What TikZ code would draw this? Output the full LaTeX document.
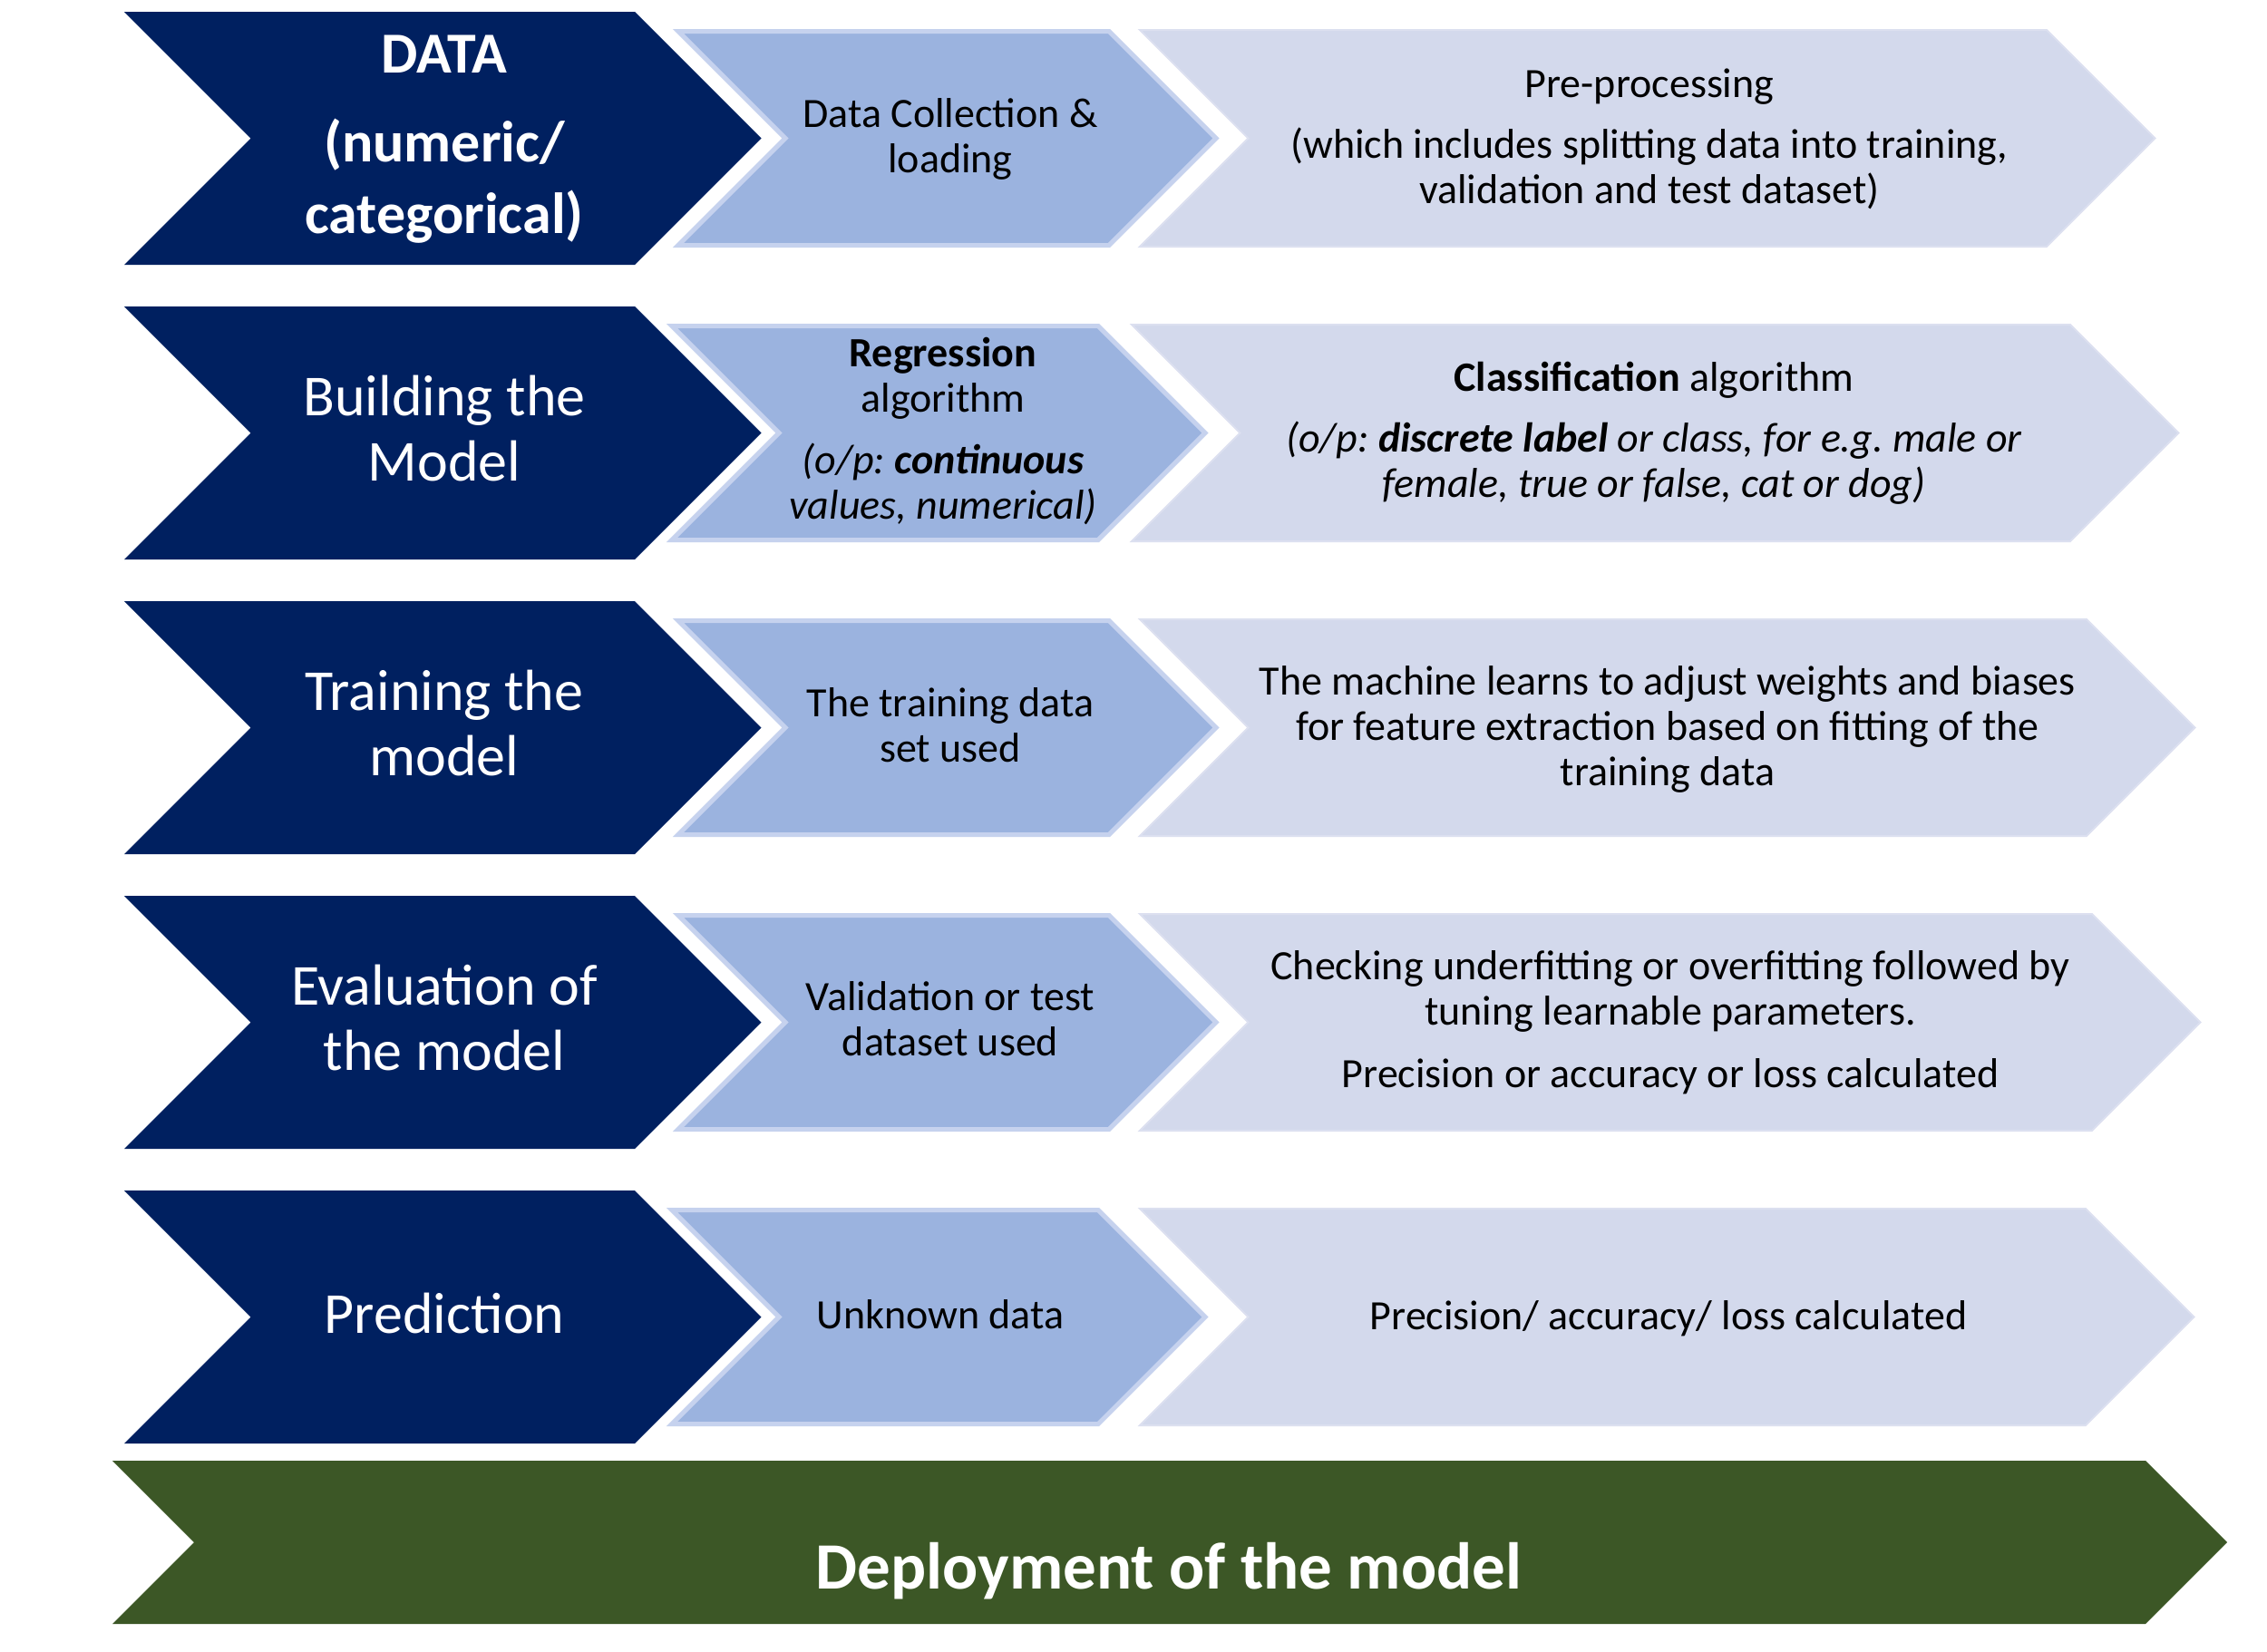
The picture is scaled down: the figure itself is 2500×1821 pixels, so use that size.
\documentclass[tikz,border=0pt]{standalone}
\usepackage{fontspec}
\setmainfont{Carlito}
\frenchspacing
\definecolor{navy}{HTML}{002060}
\definecolor{midblue}{HTML}{9BB3DF}
\definecolor{midedge}{HTML}{C6D2EE}
\definecolor{lightlav}{HTML}{D3D9EC}
\definecolor{lightedge}{HTML}{DCE0F0}
\definecolor{deepgreen}{HTML}{3C5726}
% #1 style, #2 left x, #3 right corner x, #4 top y, #5 bottom y
\newcommand\mychev[5]{%
  \path[#1] (#2,#4) -- (#3,#4) -- ({#3+(#5-#4)/2},{(#4+#5)/2}) -- (#3,#5) -- (#2,#5) -- ({#2+(#5-#4)/2},{(#4+#5)/2}) -- cycle;}
\tikzset{
  darkchev/.style={fill=navy},
  midchev/.style={fill=midblue, draw=midedge, line width=5pt, line join=miter},
  lightchev/.style={fill=lightlav, draw=lightedge, line width=2pt, line join=miter},
  greenchev/.style={fill=deepgreen},
  darktxt/.style={text=white, font=\fontsize{64}{72}\selectfont, align=center, anchor=base, inner sep=0pt},
  midtxt/.style={text=black, font=\fontsize{46}{50}\selectfont, align=center, anchor=base, inner sep=0pt},
  lighttxt/.style={text=black, font=\fontsize{46}{50}\selectfont, align=center, anchor=base, inner sep=0pt},
  greentxt/.style={text=white, font=\fontsize{73}{84}\selectfont\bfseries, align=center, anchor=base, inner sep=0pt}
}
\begin{document}
\begin{tikzpicture}[x=1pt,y=-1pt]
\useasboundingbox (0,0) rectangle (2500,1821);
\fill[white] (0,0) rectangle (2500,1821);
% dark chevrons
\mychev{darkchev}{137}{700}{13}{292}
\mychev{darkchev}{137}{700}{338}{617}
\mychev{darkchev}{137}{700}{663}{942}
\mychev{darkchev}{137}{700}{988}{1267}
\mychev{darkchev}{137}{700}{1313}{1592}
% medium chevrons
\mychev{midchev}{748}{1223}{34.5}{270.5}
\mychev{midchev}{741}{1211}{359.5}{595.5}
\mychev{midchev}{748}{1223}{684.5}{920.5}
\mychev{midchev}{748}{1223}{1009.5}{1245.5}
\mychev{midchev}{741}{1211}{1334.5}{1570.5}
% light chevrons
\mychev{lightchev}{1257}{2257}{33}{272}
\mychev{lightchev}{1248}{2283}{358}{597}
\mychev{lightchev}{1257}{2301}{683}{922}
\mychev{lightchev}{1257}{2307}{1008}{1247}
\mychev{lightchev}{1257}{2300}{1333}{1572}
% green chevron
\mychev{greenchev}{124}{2366}{1611}{1791}

% dark texts (anchored at the baseline of the last line)
\node[darktxt, font=\fontsize{64}{79}\selectfont\bfseries] (d1) at (490,257) {DATA\\[19pt](numeric/\\categorical)};
\node[darktxt] (d2) at (490,530) {Building the\\Model};
\node[darktxt] (d3) at (490,855) {Training the\\model};
\node[darktxt] (d4) at (490,1180) {Evaluation of\\the model};
\node[darktxt] (d5) at (490,1470) {Prediction};

% medium texts
\node[midtxt] (m1) at (1048,190) {Data Collection \&\\loading};
\node[midtxt] (m2) at (1040,572) {{\bfseries Regression}\\algorithm\\[18pt]{\itshape (o/p: {\bfseries continuous}}\\{\itshape values, numerical)}};
\node[midtxt] (m3) at (1048,840) {The training data\\set used};
\node[midtxt] (m4) at (1048,1164) {Validation or test\\dataset used};
\node[midtxt] (m5) at (1037,1465) {Unknown data};

% light texts
\node[lighttxt] (l1) at (1819,224) {Pre-processing\\[17pt](which includes splitting data into training,\\validation and test dataset)};
\node[lighttxt] (l2) at (1824,548) {{\bfseries Classification} algorithm\\[17pt]{\itshape (o/p: {\bfseries discrete label} or class, for e.g. male or}\\{\itshape female, true or false, cat or dog)}};
\node[lighttxt] (l3) at (1839,866) {The machine learns to adjust weights and biases\\for feature extraction based on fitting of the\\training data};
\node[lighttxt] (l4) at (1842,1199) {Checking underfitting or overfitting followed by\\tuning learnable parameters.\\[19pt]Precision or accuracy or loss calculated};
\node[lighttxt] (l5) at (1840,1466) {Precision/ accuracy/ loss calculated};

% green text
\node[greentxt] (g1) at (1289,1752) {Deployment of the model};
\end{tikzpicture}
\end{document}
